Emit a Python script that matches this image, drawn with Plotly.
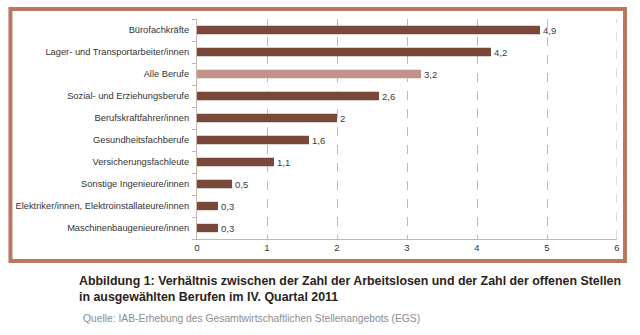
import plotly.graph_objects as go

# Ratio of unemployed persons to open positions, Q4 2011
berufe = [
    "Bürofachkräfte",
    "Lager- und Transportarbeiter/innen",
    "Alle Berufe",
    "Sozial- und Erziehungsberufe",
    "Berufskraftfahrer/innen",
    "Gesundheitsfachberufe",
    "Versicherungsfachleute",
    "Sonstige Ingenieure/innen",
    "Elektriker/innen, Elektroinstallateure/innen",
    "Maschinenbaugenieure/innen",
]
verhaeltnis = [4.9, 4.2, 3.2, 2.6, 2.0, 1.6, 1.1, 0.5, 0.3, 0.3]
x_ticks = [0, 1, 2, 3, 4, 5, 6]

DARK = "#7a4839"
LIGHT = "#c1918a"
GRID = "#ccb3ab"
colors = [LIGHT if b == "Alle Berufe" else DARK for b in berufe]

def fmt(v):
    return f"{v:g}".replace(".", ",")

W, H = 640, 335
L, R, T, B = 196.5, 22.5, 19, 96
pw, ph = W - L - R, H - T - B

def px(x):
    return (x - L) / pw

def py(y):
    return (H - B - y) / ph

fig = go.Figure(
    go.Bar(
        x=verhaeltnis,
        y=berufe,
        orientation="h",
        marker=dict(color=colors, line=dict(width=0)),
        text=[fmt(v) for v in verhaeltnis],
        textposition="outside",
        constraintext="none",
        textfont=dict(size=9.5, color="#3a3a3a", family="Liberation Sans, Arial, sans-serif"),
        cliponaxis=False,
        width=0.38,
    )
)

fig.update_layout(
    width=W,
    height=H,
    margin=dict(l=L, r=R, t=T, b=B, pad=0),
    paper_bgcolor="white",
    plot_bgcolor="white",
    showlegend=False,
    font=dict(family="Liberation Sans, Arial, sans-serif", size=9, color="#333333"),
    xaxis=dict(
        range=[x_ticks[0], x_ticks[-1]],
        tickvals=x_ticks,
        ticktext=[str(t) for t in x_ticks],
        showgrid=True,
        gridcolor=GRID,
        griddash="dash",
        gridwidth=1,
        zeroline=False,
        showline=True,
        linecolor=GRID,
        linewidth=1,
        ticks="",
        tickfont=dict(size=9.5, color="#333333"),
        fixedrange=True,
    ),
    yaxis=dict(
        categoryorder="array",
        categoryarray=berufe[::-1],
        autorange=False,
        range=[-0.5, len(berufe) - 0.5],
        showline=True,
        linecolor=GRID,
        linewidth=1,
        ticks="outside",
        tickson="boundaries",
        ticklen=4,
        tickcolor=GRID,
        ticklabelstandoff=5,
        showgrid=False,
        tickfont=dict(size=9.3, color="#333333"),
        fixedrange=True,
    ),
    shapes=[
        # outer frame
        dict(
            type="rect",
            xref="paper",
            yref="paper",
            x0=px(9.5),
            x1=px(625.5),
            y0=py(261),
            y1=py(9),
            line=dict(color="#b9785a", width=4),
            layer="below",
        ),
        # dashed grid line at the right end of the value axis
        dict(
            type="line",
            xref="x",
            yref="paper",
            x0=x_ticks[-1],
            x1=x_ticks[-1],
            y0=0,
            y1=1,
            line=dict(color=GRID, width=1, dash="dash"),
            layer="below",
        ),
    ],
    annotations=[
        dict(
            xref="paper",
            yref="paper",
            x=px(76),
            y=py(272),
            xanchor="left",
            yanchor="top",
            align="left",
            showarrow=False,
            text="<b>Abbildung 1: Verhältnis zwischen der Zahl der Arbeitslosen und der Zahl der offenen Stellen"
                 "<br>in ausgewählten Berufen im IV. Quartal 2011</b>",
            font=dict(size=12.4, color="#2a2220"),
        ),
        dict(
            xref="paper",
            yref="paper",
            x=px(80),
            y=py(311),
            xanchor="left",
            yanchor="top",
            align="left",
            showarrow=False,
            text="Quelle: IAB-Erhebung des Gesamtwirtschaftlichen Stellenangebots (EGS)",
            font=dict(size=10.3, color="#8c8c8c"),
        ),
    ],
)

fig.write_html("out.html")
